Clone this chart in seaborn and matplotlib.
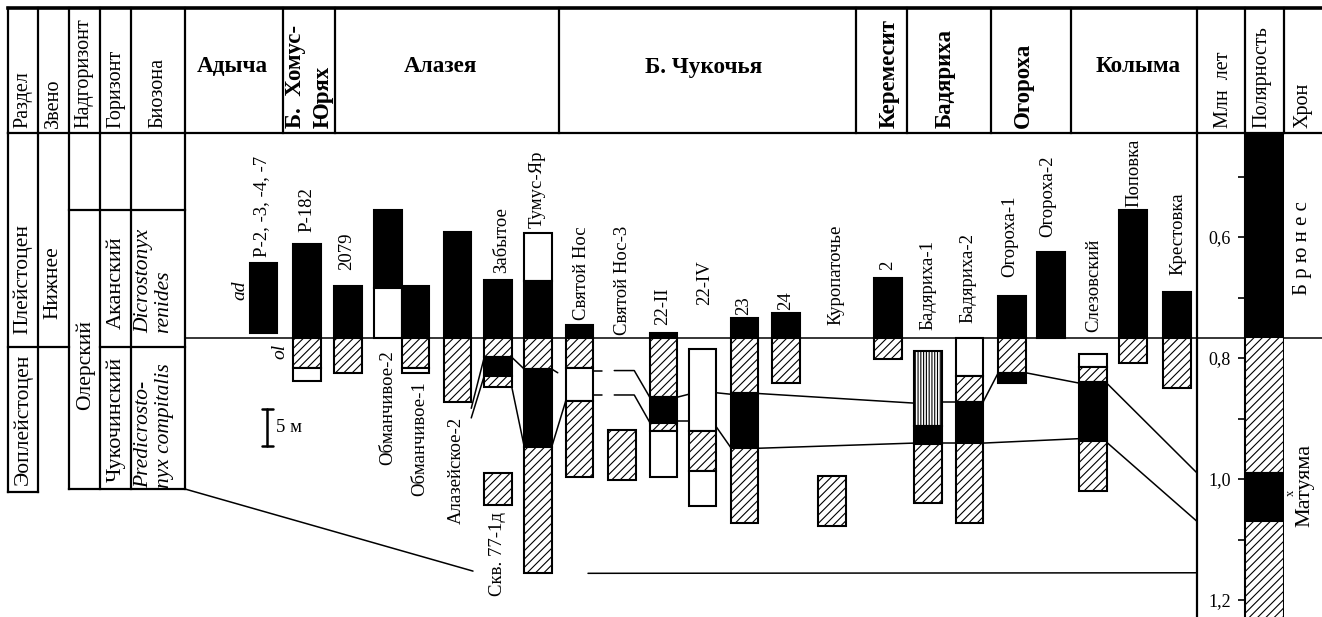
import matplotlib
matplotlib.use("Agg")
import matplotlib.pyplot as plt
import seaborn as sns

sns.set_theme(style="white", rc={"axes.edgecolor": "black", "text.color": "black",
                                 "xtick.color": "black", "ytick.color": "black"})
plt.rcParams["font.family"] = ["Liberation Serif", "DejaVu Serif"]
plt.rcParams["hatch.linewidth"] = 0.8
plt.rcParams["hatch.color"] = "black"

# ---------------------------------------------------------------- data
# sections, left to right
sites = ["Р-2, -3, -4, -7", "Р-182", "2079", "Обманчивое-2", "Обманчивое-1",
         "Алазейское-2", "Забытое", "Тумус-Яр", "Скв. 77-1д", "Святой Нос",
         "Святой Нос-3", "22-II", "22-IV", "23", "24", "Куропаточье", "2",
         "Бадяриха-1", "Бадяриха-2", "Огороха-1", "Огороха-2", "Слезовский",
         "Поповка", "Крестовка"]

# layers: depth (m) of top and base relative to the ad/ol boundary (negative = above)
# fill: N = black, R = hatched, U = blank, V = ruled
seg_site = [0,
            1, 1, 1,
            2, 2,
            3, 3,
            4, 4, 4,
            5, 5,
            6, 6, 6, 6,
            7, 7, 7, 7, 7,
            8,
            9, 9, 9, 9,
            10,
            11, 11, 11, 11, 11,
            12, 12, 12,
            13, 13, 13, 13,
            14, 14,
            15,
            16, 16,
            17, 17, 17,
            18, 18, 18, 18,
            19, 19, 19,
            20,
            21, 21, 21, 21,
            22, 22,
            23, 23]
seg_top = [-10.1,
           -12.7, 0.0, 4.1,
           -7.0, 0.0,
           -17.3, -6.8,
           -7.0, 0.0, 4.1,
           -14.3, 0.0,
           -7.8, 0.0, 2.6, 5.1,
           -14.2, -7.7, 0.0, 4.2, 14.7,
           18.2,
           -1.8, 0.0, 4.1, 8.5,
           12.4,
           -0.7, 0.0, 8.0, 11.5, 12.6,
           1.5, 12.6, 18.0,
           -2.7, 0.0, 7.4, 14.9,
           -3.4, 0.0,
           18.6,
           -8.1, 0.0,
           1.8, 11.9, 14.3,
           0.0, 5.1, 8.6, 14.2,
           -5.7, 0.0, 4.7,
           -11.6,
           2.2, 3.9, 5.9, 13.9,
           -17.3, 0.0,
           -6.2, 0.0]
seg_base = [-0.7,
            0.0, 4.1, 5.8,
            0.0, 4.7,
            -6.8, 0.0,
            0.0, 4.1, 4.7,
            0.0, 8.6,
            0.0, 2.6, 5.1, 6.6,
            -7.7, 0.0, 4.2, 14.7, 31.8,
            22.6,
            0.0, 4.1, 8.5, 18.8,
            19.2,
            0.0, 8.0, 11.5, 12.6, 18.8,
            12.6, 18.0, 22.7,
            0.0, 7.4, 14.9, 25.0,
            0.0, 6.1,
            25.4,
            0.0, 2.8,
            11.9, 14.3, 22.3,
            5.1, 8.6, 14.2, 25.0,
            0.0, 4.7, 6.1,
            0.0,
            3.9, 5.9, 13.9, 20.7,
            0.0, 3.4,
            0.0, 6.8]
seg_fill = ["N",
            "N", "R", "U",
            "N", "R",
            "N", "U",
            "N", "R", "U",
            "N", "R",
            "N", "R", "N", "R",
            "U", "N", "R", "N", "R",
            "R",
            "N", "R", "U", "R",
            "R",
            "N", "R", "N", "R", "U",
            "U", "R", "U",
            "N", "R", "N", "R",
            "N", "R",
            "R",
            "N", "R",
            "V", "N", "R",
            "U", "R", "N", "R",
            "N", "R", "N",
            "N",
            "U", "R", "N", "R",
            "N", "R",
            "N", "R"]

# correlation of layer boundaries: (site A, depth at A, site B, depth at B)
links = [(6, 2.6, 5, 9.5), (6, 5.1, 5, 10.8),
         (6, 2.6, 7, 4.2), (6, 6.6, 7, 14.7),
         (7, 14.7, 9, 8.5),
         (11, 8.0, 12, 7.6), (11, 11.2, 12, 11.2),
         (12, 7.4, 13, 7.6), (12, 12.0, 13, 14.8),
         (13, 7.5, 17, 8.8), (13, 14.9, 17, 14.2),
         (17, 8.6, 18, 8.6), (17, 14.2, 18, 14.2),
         (18, 8.6, 19, 4.7), (19, 4.7, 21, 6.1), (18, 14.2, 21, 13.6)]
# dashed ties Святой Нос -> 22-II (depth at left, depth at right)
dashed_ties = [(4.4, 8.0), (7.7, 11.4)]
# ties from Слезовский to the time scale: (depth, age Ma)
age_ties = [(6.1, 0.99), (14.1, 1.07)]
base_depth = 31.8          # base of the section at Тумус-Яр
base_age = 1.155

# polarity column (Ma)
pol_top = [0.40, 0.765, 0.99, 1.07]
pol_base = [0.765, 0.99, 1.07, 1.30]
pol_fill = ["N", "R", "N", "R"]
ma_major = [0.6, 0.8, 1.0, 1.2]
ma_labels = ["0,6", "0,8", "1,0", "1,2"]
ma_minor = [0.5, 0.7, 0.9, 1.1]

# ---------------------------------------------------------------- layout
W, H = 1322, 617
col_x = [263.5, 307, 348, 388, 415.5, 457.5, 498, 538, 498, 579.5, 622, 663.5,
         702.5, 744.5, 786, 832, 888, 928, 969.5, 1012, 1051, 1093, 1133, 1177]
col_w = 27.5
# label anchor: x, depth (m), placed above (True) or below (False)
lab_x = [262, 307, 347, 388, 420, 456, 502, 537, 498, 582, 623, 663, 705, 744,
         786, 836, 888, 928, 968, 1010, 1048, 1094, 1134, 1178]
lab_d = [-10.9, -14.3, -9.2, 1.6, 5.9, 10.7, -8.8, -14.9, 23.5, -2.4, -0.4, -1.8,
         -4.5, -3.1, -3.8, -1.8, -9.2, -1.1, -2.0, -8.2, -13.6, -0.8, -17.7, -8.5]
lab_above = [True, True, True, False, False, False, True, True, False, True, True,
             True, True, True, True, True, True, True, True, True, True, True,
             True, True]

PX_PER_M = 7.4
Y_TOP, Y_ZERO = 133, 338

fig = plt.figure(figsize=(13.22, 6.17), dpi=100)


def fpos(x0, x1, y0, y1):
    return [x0 / W, 1 - y1 / H, (x1 - x0) / W, (y1 - y0) / H]


frame = fig.add_axes([0, 0, 1, 1])
frame.set_xlim(0, W)
frame.set_ylim(H, 0)
frame.axis("off")

sec = fig.add_axes(fpos(185, 1197, Y_TOP, H))
sec.set_xlim(185, 1197)
d_top = (Y_TOP - Y_ZERO) / PX_PER_M
d_bot = (H - Y_ZERO) / PX_PER_M
sec.set_ylim(d_bot, d_top)
sec.axis("off")

ma = fig.add_axes(fpos(1245, 1284, Y_TOP, H))
ma.set_xlim(0, 1)
t_top = 0.6 + (Y_TOP - 237) / 605
t_bot = 0.6 + (H - 237) / 605
ma.set_ylim(t_bot, t_top)
ma.patch.set_alpha(0)


def age_to_depth(t):
    return d_top + (t - t_top) / (t_bot - t_top) * (d_bot - d_top)


# ---------------------------------------------------------------- table frame
LW = 1.6


def hl(y, x0, x1, lw=LW):
    frame.plot([x0, x1], [y, y], color="black", lw=lw, solid_capstyle="projecting")


def vl(x, y0, y1, lw=LW):
    frame.plot([x, x], [y0, y1], color="black", lw=lw, solid_capstyle="projecting")


hl(8, 8, W, lw=2.6)
hl(133, 8, W)
for x in [8, 38, 69, 100, 131, 185, 283, 335, 559, 856, 907, 991, 1071, 1197, 1245, 1284]:
    vl(x, 8, 133)
vl(8, 133, 492)
vl(38, 133, 492)
for x in [69, 100, 131, 185]:
    vl(x, 133, 489)
vl(1197, 133, H)
hl(210, 69, 185)
hl(347, 8, 69)
hl(347, 100, 185)
hl(492, 8, 38)
hl(489, 69, 185)
frame.plot([185, W], [Y_ZERO, Y_ZERO], color="black", lw=1.1)

# header captions
small = dict(rotation=90, ha="center", va="bottom", fontsize=14.5)
for x, t in [(23, "Раздел"), (53, "Звено"), (84, "Надгоризонт"), (116, "Горизонт"),
             (158, "Биозона"), (1224, "Млн  лет"), (1262, "Полярность"), (1303, "Хрон")]:
    frame.text(x, 128, t, **small)
bold_rot = dict(rotation=90, ha="center", va="bottom", fontsize=16.5, fontweight="bold")
for x, t in [(295, "Б.  Хомус-"), (323, "Юрях"), (889, "Керемесит"),
             (945, "Бадяриха"), (1023, "Огороха")]:
    frame.text(x, 128, t, **bold_rot)
for x, t in [(232, "Адыча"), (440, "Алазея"), (704, "Б. Чукочья"), (1138, "Колыма")]:
    frame.text(x, 67, t, ha="center", va="center", fontsize=16.7, fontweight="bold")

# stratigraphic units
unit = dict(rotation=90, ha="center", va="center")
frame.text(23, 279, "Плейстоцен", fontsize=15.5, **unit)
frame.text(23, 419, "Эоплейстоцен", fontsize=15.5, **unit)
frame.text(53, 283, "Нижнее", fontsize=15.5, **unit)
frame.text(85, 365, "Олерский", fontsize=15.5, **unit)
frame.text(116, 283, "Аканский", fontsize=16, **unit)
frame.text(116, 419, "Чукочинский", fontsize=16, **unit)
ital = dict(rotation=90, ha="center", va="bottom", fontsize=15.5, style="italic")
frame.text(144, 333, "Dicrostonyx", **ital)
frame.text(164, 333, "renides", **ital)
frame.text(144, 488, "Predicrosto-", **ital)
frame.text(164, 488, "nyx compitalis", **ital)

# ---------------------------------------------------------------- sections
style = {"N": dict(color="black", hatch=None),
         "R": dict(color="white", hatch="////"),
         "U": dict(color="white", hatch=None),
         "V": dict(color="white", hatch="||||||")}
for s, t0, t1, f in zip(seg_site, seg_top, seg_base, seg_fill):
    st = style[f]
    sec.bar(col_x[s], t1 - t0, bottom=t0, width=col_w, color=st["color"],
            hatch=st["hatch"], edgecolor="black", linewidth=1.5, zorder=3)

for name, x, d, above in zip(sites, lab_x, lab_d, lab_above):
    sec.text(x, d, name, rotation=90, ha="center", va="bottom" if above else "top",
             fontsize=13.5, zorder=4)

sec.text(240, -6.4, "ad", rotation=90, ha="center", va="center", fontsize=14, style="italic")
sec.text(280, 1.8, "ol", rotation=90, ha="center", va="center", fontsize=14, style="italic")

# scale bar 5 m
sb0 = (409 - Y_ZERO) / PX_PER_M
sec.plot([267, 267], [sb0, sb0 + 5], color="black", lw=1.8)
sec.plot([262, 273], [sb0, sb0], color="black", lw=1.8)
sec.plot([262, 273], [sb0 + 5, sb0 + 5], color="black", lw=1.8)
sec.text(276, sb0 + 2.5, "5 м", ha="left", va="center", fontsize=13.5)

# correlation lines
half = col_w / 2
LLW = 1.1
for a, da, b, db in links:
    xa = col_x[a] + (half if col_x[b] > col_x[a] else -half)
    xb = col_x[b] + (-half if col_x[b] > col_x[a] else half)
    sec.plot([xa, xb], [da, db], color="black", lw=LLW, zorder=2)
# short tail beyond Тумус-Яр
sec.plot([col_x[7] + half, col_x[7] + half + 6], [4.2, 4.7], color="black", lw=LLW, zorder=2)
# broken ties Святой Нос -> 22-II
for dl, dr in dashed_ties:
    x0 = col_x[9] + half
    sec.plot([x0, x0 + 9], [dl, dl], color="black", lw=LLW, zorder=2)
    sec.plot([x0 + 21, x0 + 41, col_x[11] - half], [dl, dl, dr], color="black",
             lw=LLW, zorder=2)
# Слезовский -> time scale
for d, t in age_ties:
    sec.plot([col_x[21] + half, 1197], [d, age_to_depth(t)], color="black", lw=LLW, zorder=2)
# base of the section
sec.plot([185, 473], [(489 - Y_ZERO) / PX_PER_M, base_depth - 0.3], color="black", lw=LLW)
sec.plot([588, 1197], [base_depth, age_to_depth(base_age)], color="black", lw=LLW)

# ---------------------------------------------------------------- polarity / time scale
for t0, t1, f in zip(pol_top, pol_base, pol_fill):
    st = style[f]
    ma.bar(0.5, t1 - t0, bottom=t0, width=1.0, color=st["color"], hatch=st["hatch"],
           edgecolor="black", linewidth=1.5, zorder=3)
ma.set_xticks([])
ma.set_yticks(ma_major)
ma.set_yticklabels(ma_labels)
ma.set_yticks(ma_minor, minor=True)
ma.tick_params(axis="y", which="both", left=True, direction="out", length=5, width=1.2,
               labelsize=13, pad=5)
for side in ["top", "right", "bottom"]:
    ma.spines[side].set_visible(False)
ma.spines["left"].set_linewidth(1.5)
ma.grid(False)

frame.text(1303, 248, "Б р ю н е с", rotation=90, ha="center", va="center", fontsize=15)
frame.text(1305, 485, "Матуяма", rotation=90, ha="center", va="center", fontsize=16)
frame.text(1291, 493, "x", rotation=90, ha="center", va="center", fontsize=9)

fig.savefig("out.png", dpi=100)
